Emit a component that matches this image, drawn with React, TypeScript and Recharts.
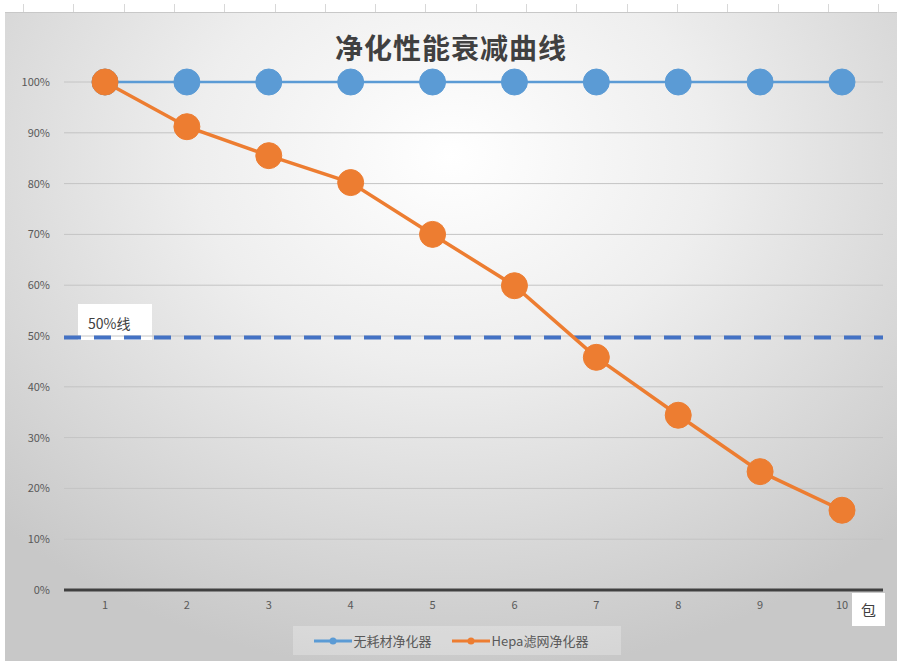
import { LineChart, Line, XAxis, YAxis, CartesianGrid, ReferenceLine } from 'recharts';

// 包数（X 轴类别）
const packs = ['1', '2', '3', '4', '5', '6', '7', '8', '9', '10'];
// 无耗材净化器：性能保持 100%
const noConsumable = [100, 100, 100, 100, 100, 100, 100, 100, 100, 100];
// Hepa 滤网净化器：随使用包数衰减
const hepaFilter = [100, 91.2, 85.5, 80.2, 70.0, 59.9, 45.8, 34.4, 23.3, 15.7];
const yTicks = [0, 10, 20, 30, 40, 50, 60, 70, 80, 90, 100];
const halfLine = 49.7;

const colors = {
  blue: '#5B9BD5',
  orange: '#ED7D31',
  dash: '#4472C4',
  text: '#595959',
  title: '#404040',
  grid: '#c4c4c4',
};

const font = '"Noto Sans CJK SC", "Noto Sans", sans-serif';

const chartData = packs.map((p, i) => ({
  pack: p,
  noConsumable: noConsumable[i],
  hepa: hepaFilter[i],
}));

const legendItems = [
  { name: '无耗材净化器', color: colors.blue },
  { name: 'Hepa滤网净化器', color: colors.orange },
];

const ChartLegend = () => (
  <div
    style={{
      position: 'absolute',
      left: 288,
      top: 613,
      width: 328,
      height: 29,
      display: 'flex',
      alignItems: 'center',
      justifyContent: 'center',
      gap: 8,
      background: 'rgba(255,255,255,0.25)',
      fontFamily: font,
      fontSize: 13,
      color: colors.text,
    }}
  >
    {legendItems.map((item) => (
      <div key={item.name} style={{ display: 'flex', alignItems: 'center', marginRight: 12 }}>
        <svg width={38} height={10} style={{ marginRight: 2 }}>
          <line x1={0} y1={5} x2={38} y2={5} stroke={item.color} strokeWidth={3} />
          <circle cx={19} cy={5} r={3.5} fill={item.color} />
        </svg>
        <span>{item.name}</span>
      </div>
    ))}
  </div>
);

const App = () => {
  return (
    <div style={{ position: 'fixed', left: 0, top: 0, width: 908, height: 661, background: '#fff', overflow: 'hidden' }}>
      {/* 顶部列分隔线 */}
      <div
        style={{
          position: 'absolute',
          left: 0,
          top: 4,
          width: 908,
          height: 8,
          backgroundImage:
            'repeating-linear-gradient(to right, transparent 0px, transparent 23px, #d8d8d8 23px, #d8d8d8 24px, transparent 24px, transparent 50.3px)',
        }}
      />
      <div
        style={{
          position: 'absolute',
          left: 5,
          top: 12,
          width: 892,
          height: 649,
          borderTop: '1px solid #c8c8c8',
          background:
            'radial-gradient(ellipse 72% 80% at 50% 22%, #ffffff 0%, #eeeeee 40%, #d6d6d6 78%, #c8c8c8 100%)',
        }}
      >
        {/* 50%线 标签 */}
        <div
          style={{
            position: 'absolute',
            left: 73,
            top: 291,
            width: 74,
            height: 36,
            background: '#ffffff',
            fontFamily: font,
            fontSize: 14,
            color: '#404040',
            boxSizing: 'border-box',
            paddingLeft: 10,
            paddingTop: 9,
          }}
        >
          50%线
        </div>
        {/* 包 标签 */}
        <div
          style={{
            position: 'absolute',
            left: 847,
            top: 580,
            width: 33,
            height: 33,
            background: '#ffffff',
            fontFamily: font,
            fontSize: 15,
            color: '#404040',
            display: 'flex',
            alignItems: 'center',
            justifyContent: 'center',
          }}
        >
          包
        </div>
        <div
          style={{
            position: 'absolute',
            left: 0,
            top: 14,
            width: 892,
            textAlign: 'center',
            fontFamily: font,
            fontWeight: 700,
            fontSize: 28,
            letterSpacing: 1,
            color: colors.title,
          }}
        >
          净化性能衰减曲线
        </div>
        <ChartLegend />
        <div style={{ position: 'absolute', left: 0, top: 0 }}>
          <LineChart width={892} height={649} data={chartData} margin={{ top: 69, right: 14, bottom: 42, left: 0 }}>
            <CartesianGrid vertical={false} stroke={colors.grid} />
            <XAxis
              dataKey="pack"
              height={30}
              padding={{ left: 41, right: 41 }}
              tickSize={0}
              tickMargin={11}
              axisLine={{ stroke: '#404040', strokeWidth: 3 }}
              tick={{ fill: colors.text, fontSize: 11, fontFamily: font }}
            />
            <YAxis
              width={59}
              domain={[0, 100]}
              ticks={yTicks}
              tickFormatter={(v: number) => `${v}%`}
              tickSize={0}
              tickMargin={14}
              axisLine={false}
              tick={{ fill: colors.text, fontSize: 11, fontFamily: font }}
            />
            <ReferenceLine y={halfLine} stroke={colors.dash} strokeWidth={4} strokeDasharray="17 13" />
            <Line
              dataKey="noConsumable"
              name="无耗材净化器"
              stroke={colors.blue}
              strokeWidth={2.5}
              dot={{ r: 13, fill: colors.blue, stroke: colors.blue, strokeWidth: 1 }}
              isAnimationActive={false}
            />
            <Line
              dataKey="hepa"
              name="Hepa滤网净化器"
              stroke={colors.orange}
              strokeWidth={3.5}
              dot={{ r: 13, fill: colors.orange, stroke: colors.orange, strokeWidth: 1 }}
              isAnimationActive={false}
            />
          </LineChart>
        </div>
      </div>
    </div>
  );
};

export default App;
